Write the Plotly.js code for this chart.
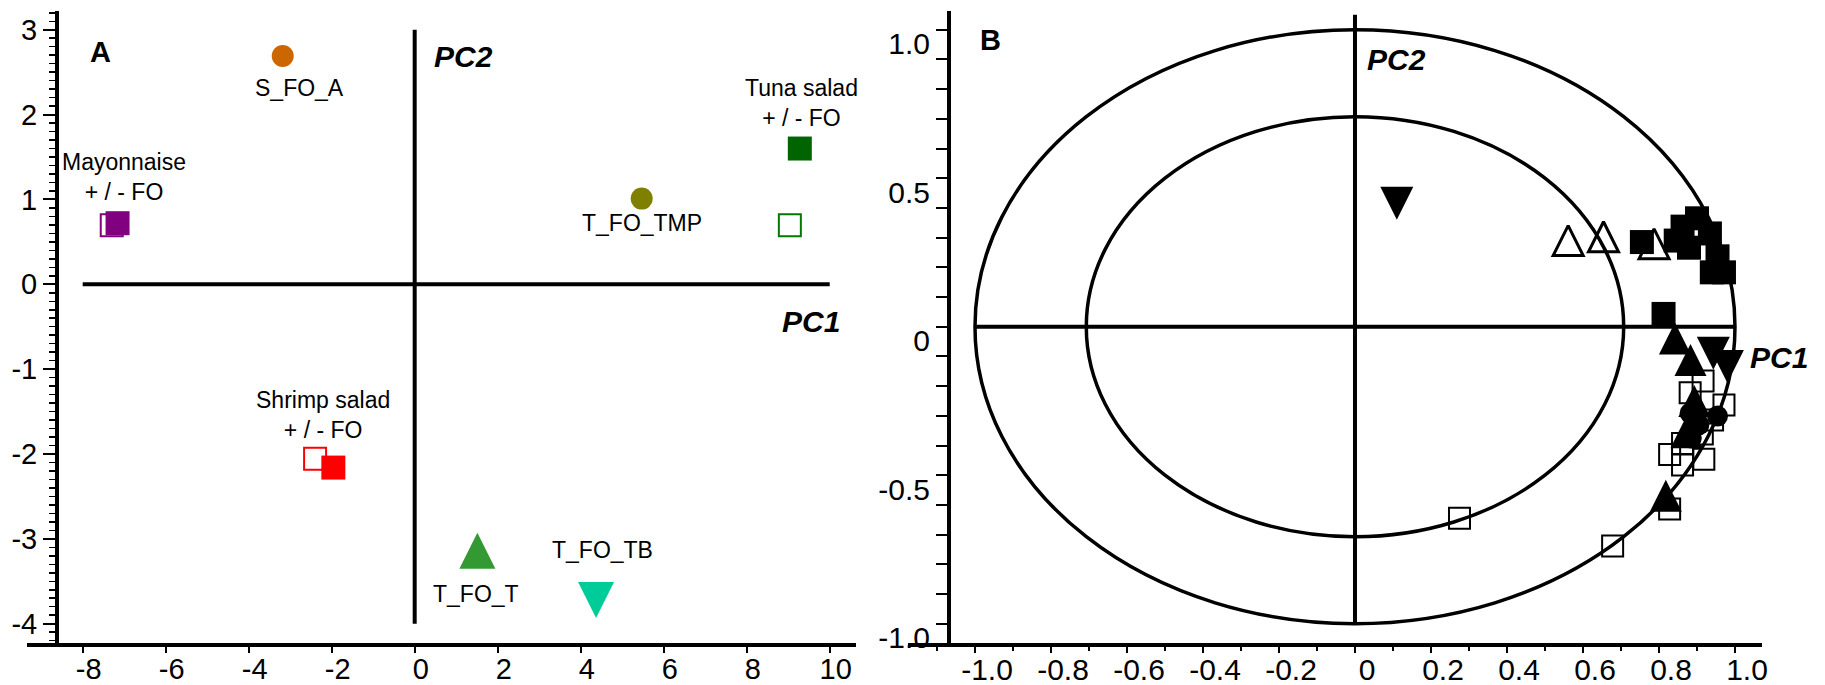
<!DOCTYPE html>
<html>
<head>
<meta charset="utf-8">
<script src="https://cdn.plot.ly/plotly-3.0.1.min.js"></script>
<style>
  html, body { margin: 0; padding: 0; background: #ffffff; }
  #chart { width: 1825px; height: 685px; }
</style>
</head>
<body>
<div id="chart"></div>
<script>
// ---------- Panel A: PCA scores ----------
const scoreNames   = ['Mayonnaise (open)', 'Mayonnaise (filled)', 'Shrimp salad (open)', 'Shrimp salad (filled)',
                      'Tuna salad (open)', 'Tuna salad (filled)', 'S_FO_A', 'T_FO_TMP', 'T_FO_T', 'T_FO_TB'];
const scorePC1     = [-7.30, -7.16, -2.40, -1.96, 9.04, 9.28, -3.18, 5.47, 1.51, 4.37];
const scorePC2     = [0.695, 0.72, -2.055, -2.16, 0.695, 1.60, 2.69, 1.01, -3.14, -3.72];

const scoreLabels  = ['S_FO_A', 'Mayonnaise<br>+ / - FO', 'Shrimp salad<br>+ / - FO', 'Tuna salad<br>+ / - FO',
                      'T_FO_TMP', 'T_FO_T', 'T_FO_TB'];

const axisA_xTicks = [-8, -6, -4, -2, 0, 2, 4, 6, 8, 10];
const axisA_xText  = ['-8', '-6', '-4', '-2', '0', '2', '4', '6', '8', '10'];
const axisA_yTicks = [-4, -3, -2, -1, 0, 1, 2, 3];
const axisA_yText  = ['-4', '-3', '-2', '-1', '0', '1', '2', '3'];

// ---------- Panel B: PCA loadings ----------
const loadSquareFilledPC1 = [0.755, 0.900, 0.862, 0.844, 0.879, 0.934, 0.954, 0.939, 0.971, 0.812];
const loadSquareFilledPC2 = [0.285, 0.365, 0.337, 0.290, 0.266, 0.314, 0.237, 0.183, 0.183, 0.043];

const loadSquareOpenPC1 = [0.882, 0.971, 0.941, 0.916, 0.828, 0.862, 0.862, 0.918, 0.914, 0.828, 0.678, 0.275];
const loadSquareOpenPC2 = [-0.222, -0.264, -0.314, -0.183, -0.430, -0.393, -0.466, -0.446, -0.361, -0.614, -0.738, -0.645];

const loadTriUpOpenPC1 = [0.561, 0.654, 0.787];
const loadTriUpOpenPC2 = [0.290, 0.303, 0.279];

const loadTriUpFilledPC1 = [0.842, 0.883, 0.893, 0.872, 0.818];
const loadTriUpFilledPC2 = [-0.040, -0.112, -0.250, -0.355, -0.569];

const loadTriDownFilledPC1 = [0.110, 0.943, 0.980];
const loadTriDownFilledPC2 = [0.416, -0.089, -0.134];

const loadCircleFilledPC1 = [0.882, 0.954, 0.905, 0.885];
const loadCircleFilledPC2 = [-0.291, -0.301, -0.330, -0.375];

const axisB_xTicks = [-1.0, -0.8, -0.6, -0.4, -0.2, 0, 0.2, 0.4, 0.6, 0.8, 1.0];
const axisB_xText  = ['-1.0', '-0.8', '-0.6', '-0.4', '-0.2', '0', '0.2', '0.4', '0.6', '0.8', '1.0'];
const axisB_yTicks = [-1.0, -0.5, 0, 0.5, 1.0];
const axisB_yText  = ['-1.0', '-0.5', '0', '0.5', '1.0'];

// Correlation circles: unit circle and the 50 % explained-variance circle
const outerRadius = 1.0;
const innerRadius = Math.SQRT1_2;

// ---------- styling ----------
const FONT = 'Liberation Sans, Arial, Helvetica, sans-serif';
const W = 1825, H = 685;
const px = (v) => v / W;          // horizontal pixel -> paper fraction
const py = (v) => 1 - v / H;      // vertical pixel (from top) -> paper fraction

const scoreStyle = {
  color:  ['#800080', '#800080', '#ff0000', '#ff0000', '#007a00', '#006400', '#cc6600', '#808000', '#339933', '#00cc99'],
  symbol: ['square-open', 'square', 'square-open', 'square', 'square-open', 'square', 'circle', 'circle', 'arrow-down', 'arrow-down'],
  size:   [22, 24, 22, 24, 22, 24, 22, 22, 36, 36],
  line:   [2, 0, 2, 0, 2, 0, 0, 0, 0, 0],
  angle:  [0, 0, 0, 0, 0, 0, 0, 0, 180, 0],
  standoff: [0, 0, 0, 0, 0, 0, 0, 0, 18, 18]
};

const scoreLabelPos = {
  x: [-2.776, -6.993, -2.217, 9.325, 5.477, 1.477, 4.53],
  y: [2.313, 1.259, -1.541, 2.137, 0.726, -3.65, -3.131]
};

const traces = [];

traces.push({
  type: 'scatter', mode: 'markers', xaxis: 'x', yaxis: 'y',
  x: scorePC1, y: scorePC2, text: scoreNames, cliponaxis: false,
  marker: {
    color: scoreStyle.color, symbol: scoreStyle.symbol, size: scoreStyle.size, opacity: 1,
    angle: scoreStyle.angle, standoff: scoreStyle.standoff,
    line: { color: scoreStyle.color, width: scoreStyle.line }
  },
  hoverinfo: 'text+x+y'
});

function loadingTrace(xs, ys, symbol, size, opts) {
  const o = opts || {};
  return {
    type: 'scatter', mode: 'markers', xaxis: 'x2', yaxis: 'y2', x: xs, y: ys, cliponaxis: false,
    marker: {
      symbol: symbol, size: size, color: '#000000', opacity: 1,
      angle: o.angle || 0, standoff: o.standoff || 0,
      line: { color: '#000000', width: o.lw || 0 }
    }
  };
}

traces.push(loadingTrace(loadSquareOpenPC1, loadSquareOpenPC2, 'square-open', 21, { lw: 2 }));
traces.push(loadingTrace(loadTriUpOpenPC1, loadTriUpOpenPC2, 'arrow-down-open', 30, { lw: 3, angle: 180, standoff: 15 }));
traces.push(loadingTrace(loadSquareFilledPC1, loadSquareFilledPC2, 'square', 24));
traces.push(loadingTrace(loadTriUpFilledPC1, loadTriUpFilledPC2, 'arrow-down', 32, { angle: 180, standoff: 16 }));
traces.push(loadingTrace(loadTriDownFilledPC1, loadTriDownFilledPC2, 'arrow-down', 33, { standoff: 16.5 }));
traces.push(loadingTrace(loadCircleFilledPC1, loadCircleFilledPC2, 'circle', 21));

// ---------- annotations ----------
const annotations = [];
scoreLabels.forEach((t, i) => {
  annotations.push({
    xref: 'x', yref: 'y', x: scoreLabelPos.x[i], y: scoreLabelPos.y[i], text: t,
    showarrow: false, xanchor: 'center', yanchor: 'middle',
    font: { family: FONT, size: 23, color: '#000' }
  });
});
const bold = (t, sz, xr, yr, x, y, xa) => ({
  xref: xr, yref: yr, x: x, y: y, text: t, showarrow: false,
  xanchor: xa || 'center', yanchor: 'middle',
  font: { family: FONT, size: sz, color: '#000' }
});
annotations.push(bold('<b>A</b>', 29, 'x', 'y', -7.583, 2.738));
annotations.push(bold('<b><i>PC2</i></b>', 30, 'x', 'y', 1.188, 2.69));
annotations.push(bold('<b><i>PC1</i></b>', 30, 'x', 'y', 9.56, -0.438));
annotations.push(bold('<b>B</b>', 29, 'x2', 'y2', -0.958, 0.964));
annotations.push(bold('<b><i>PC2</i></b>', 30, 'x2', 'y2', 0.11, 0.90));
annotations.push(bold('<b><i>PC1</i></b>', 30, 'x2', 'y2', 1.034, -0.105, 'left'));

// ---------- shapes: PC reference lines and circles ----------
const lineStyle = { color: '#000000', width: 4 };
const shapes = [
  { type: 'line', xref: 'x', yref: 'y', x0: -8, x1: 10, y0: 0, y1: 0, line: lineStyle, layer: 'below' },
  { type: 'line', xref: 'x', yref: 'y', x0: 0, x1: 0, y0: -4, y1: 3, line: lineStyle, layer: 'below' },
  { type: 'circle', xref: 'x2', yref: 'y2', x0: -outerRadius, x1: outerRadius, y0: -outerRadius, y1: outerRadius,
    line: { color: '#000', width: 3.5 }, layer: 'below' },
  { type: 'circle', xref: 'x2', yref: 'y2', x0: -innerRadius, x1: innerRadius, y0: -innerRadius, y1: innerRadius,
    line: { color: '#000', width: 3.5 }, layer: 'below' },
  { type: 'line', xref: 'x2', yref: 'y2', x0: -1, x1: 1, y0: 0, y1: 0, line: lineStyle, layer: 'below' },
  { type: 'line', xref: 'x2', yref: 'y2', x0: 0, x1: 0, y0: -1, y1: 1.05, line: lineStyle, layer: 'below' }
];

// ---------- axes ----------
const tickFontA = { family: FONT, size: 29, color: '#000' };
const tickFontB = { family: FONT, size: 30, color: '#000' };
const axisCommon = {
  showline: true, linecolor: '#000', linewidth: 4, showgrid: false, zeroline: false,
  ticks: 'outside', tickcolor: '#000', tickmode: 'array'
};

const layout = {
  width: W, height: H,
  margin: { l: 0, r: 0, t: 0, b: 0, pad: 0 },
  paper_bgcolor: '#ffffff', plot_bgcolor: '#ffffff',
  showlegend: false,
  font: { family: FONT, color: '#000' },
  xaxis: Object.assign({}, axisCommon, {
    domain: [px(27), px(856)], range: [-9.342, 10.634], anchor: 'y',
    tickvals: axisA_xTicks, ticktext: axisA_xText, ticklen: 6, tickwidth: 2,
    tickfont: tickFontA, ticklabelshift: 6, ticklabelstandoff: -9
  }),
  yaxis: Object.assign({}, axisCommon, {
    domain: [py(643.3), py(10.7)], range: [-4.231, 3.2245], anchor: 'free', position: px(57),
    tickvals: axisA_yTicks, ticktext: axisA_yText, ticklen: 12, tickwidth: 2,
    tickfont: tickFontA,
    minor: { tickmode: 'linear', tick0: 0, dtick: 0.1, ticks: 'outside', ticklen: 6, tickwidth: 1.5, tickcolor: '#000', showgrid: false }
  }),
  xaxis2: Object.assign({}, axisCommon, {
    domain: [px(908), px(1761.7)], range: [-1.1763, 1.0703], anchor: 'y2',
    tickvals: axisB_xTicks, ticktext: axisB_xText, ticklen: 6, tickwidth: 2,
    tickfont: tickFontB, ticklabelshift: 12, ticklabelstandoff: -9,
    minor: { tickmode: 'linear', tick0: 0, dtick: 0.1, ticks: 'outside', ticklen: 4, tickwidth: 1.5, tickcolor: '#000', showgrid: false }
  }),
  yaxis2: Object.assign({}, axisCommon, {
    domain: [py(643.3), py(10.7)], range: [-1.066, 1.064], anchor: 'free', position: px(949),
    tickvals: axisB_yTicks, ticktext: axisB_yText, ticklen: 11, tickwidth: 2,
    tickfont: tickFontB, ticklabelshift: 14,
    minor: { tickmode: 'linear', tick0: 0, dtick: 0.1, ticks: 'outside', ticklen: 11, tickwidth: 2, tickcolor: '#000', showgrid: false }
  }),
  shapes: shapes,
  annotations: annotations
};

Plotly.newPlot('chart', traces, layout, { staticPlot: true, displayModeBar: false });
</script>
</body>
</html>
